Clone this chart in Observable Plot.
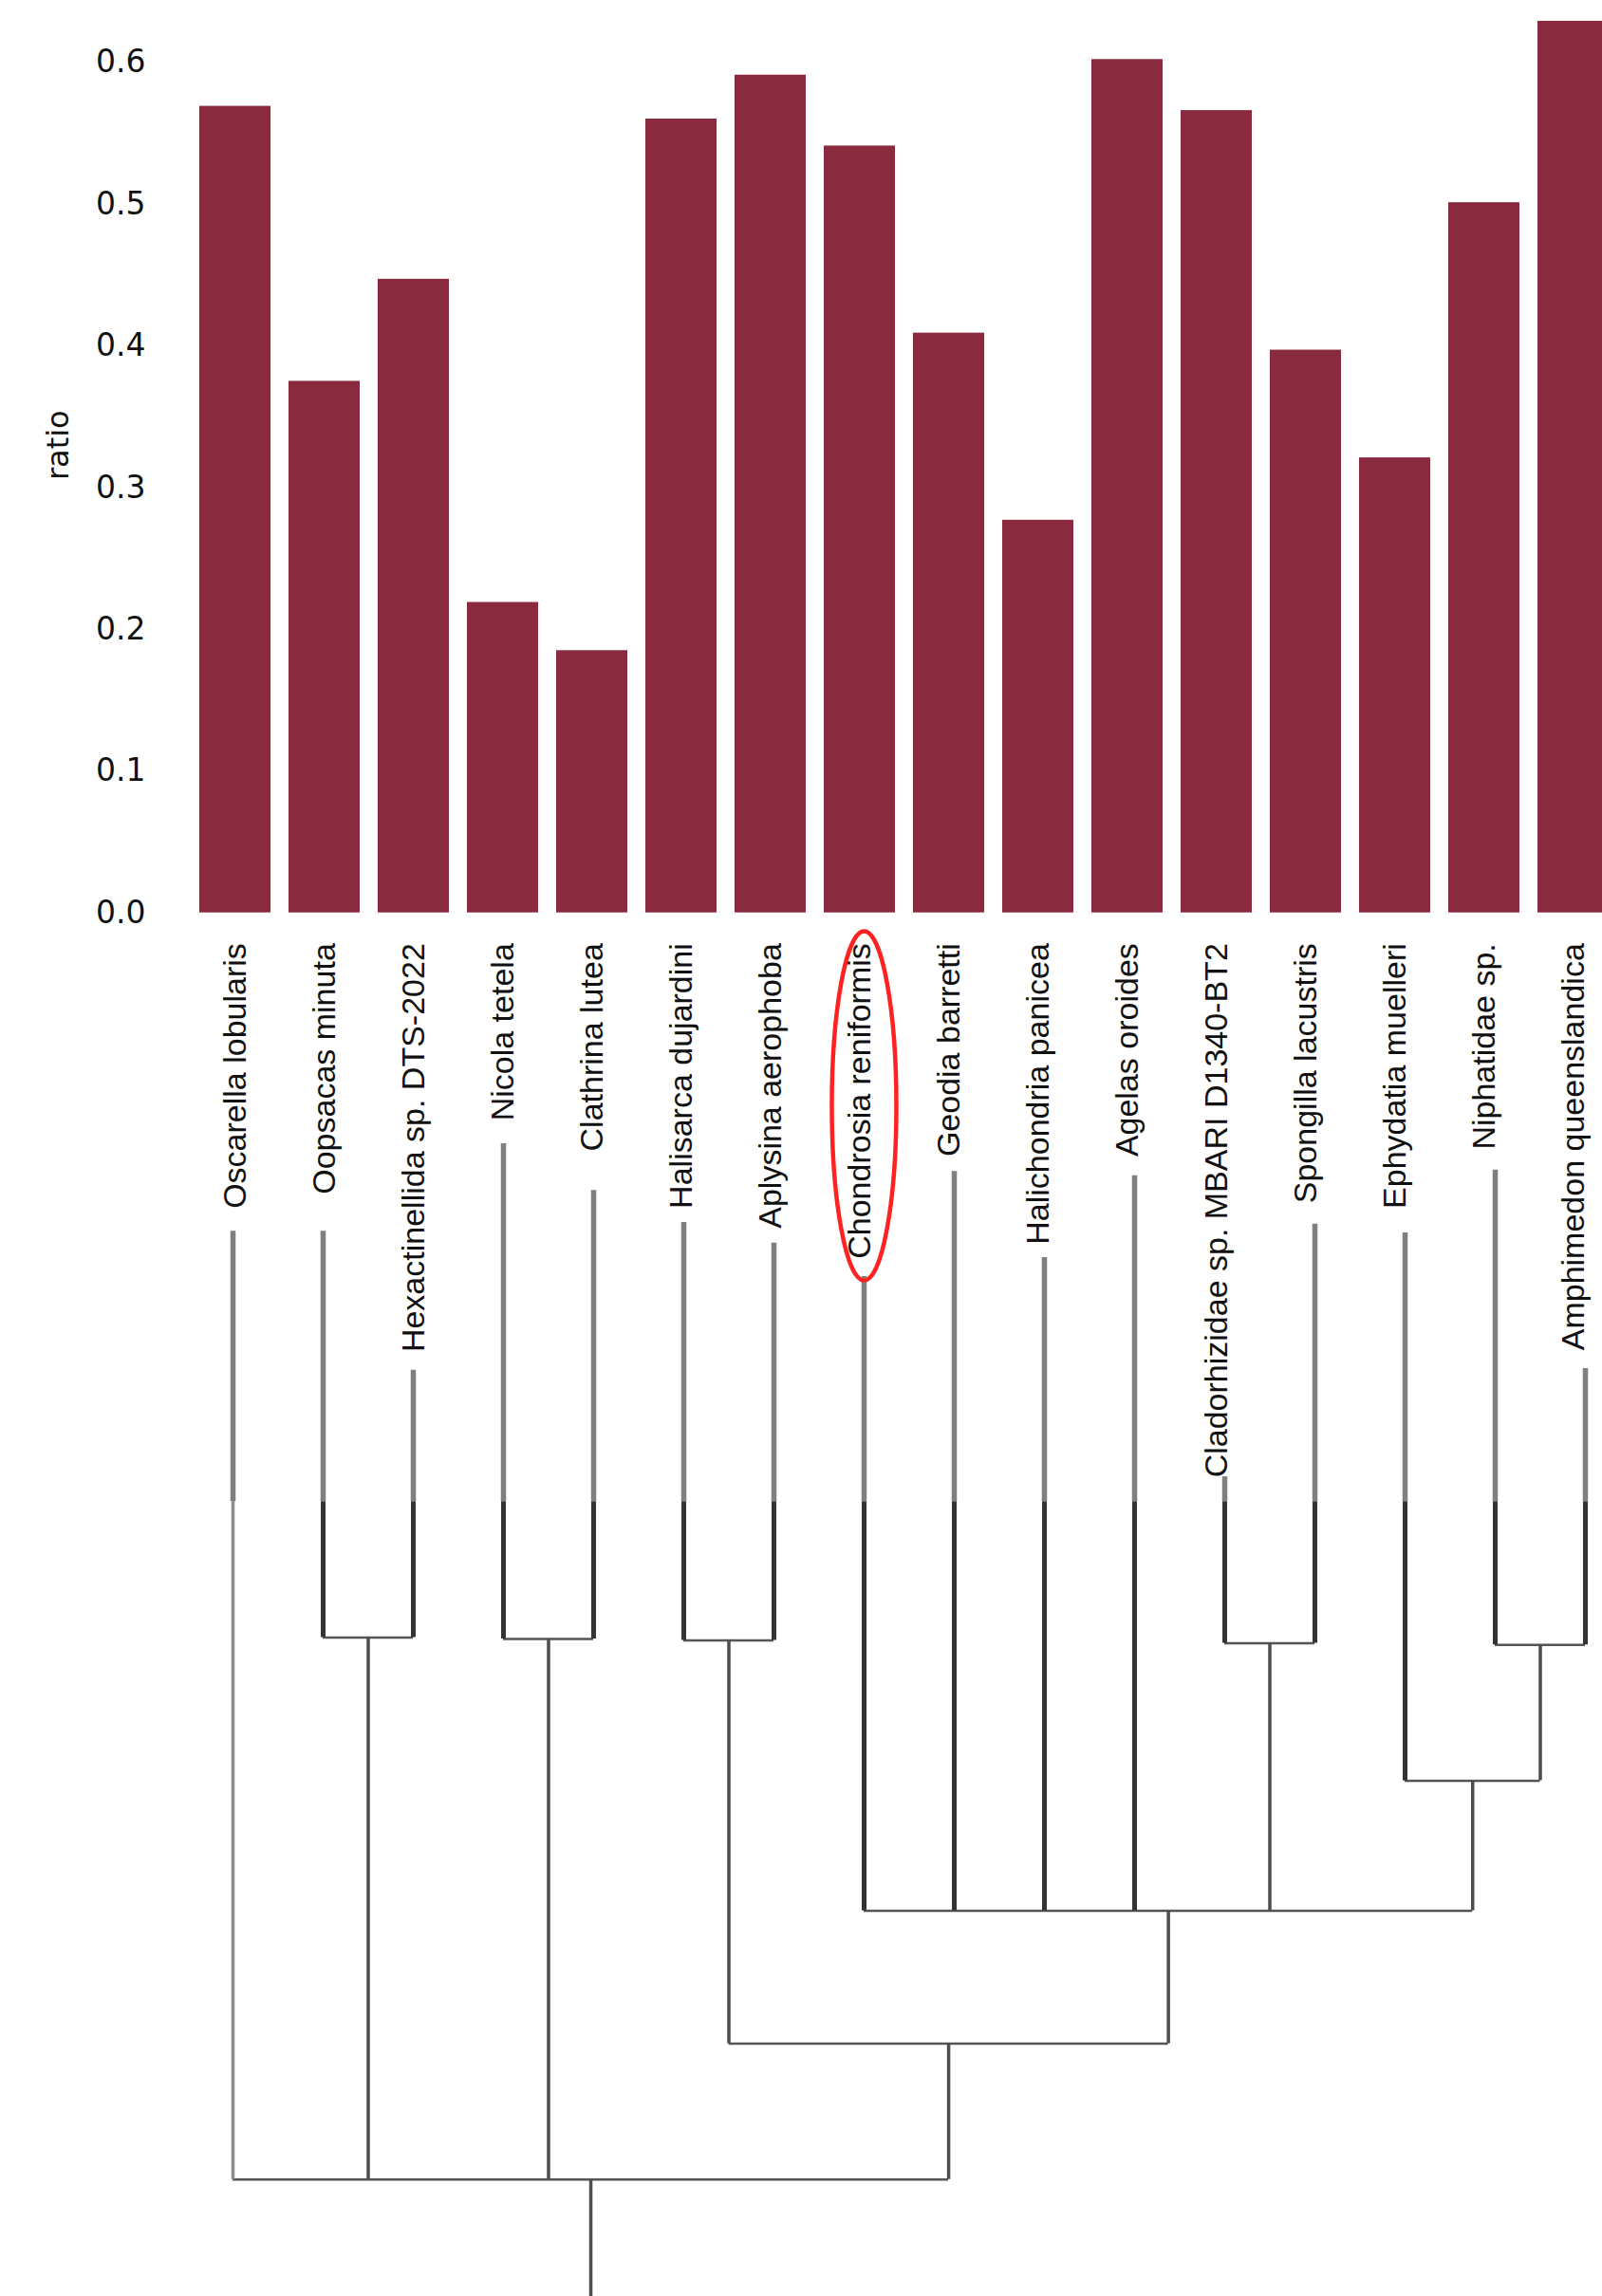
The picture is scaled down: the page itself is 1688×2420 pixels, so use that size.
<!DOCTYPE html>
<html>
<head>
<meta charset="utf-8">
<script src="https://cdn.jsdelivr.net/npm/d3@7"></script>
<script src="https://cdn.jsdelivr.net/npm/@observablehq/plot@0.6"></script>
<style>
  html, body { margin: 0; padding: 0; background: #fff; }
  #wrap { position: relative; width: 1688px; height: 2420px; overflow: hidden; }
  #wrap svg { position: absolute; left: 0; top: 0; }
</style>
</head>
<body>
<div id="wrap"></div>
<script>
// ---- data ----
const species = [
  "Oscarella lobularis", "Oopsacas minuta", "Hexactinellida sp. DTS-2022",
  "Nicola tetela", "Clathrina lutea", "Halisarca dujardini", "Aplysina aerophoba",
  "Chondrosia reniformis", "Geodia barretti", "Halichondria panicea",
  "Agelas oroides", "Cladorhizidae sp. MBARI D1340-BT2", "Spongilla lacustris",
  "Ephydatia muelleri", "Niphatidae sp.", "Amphimedon queenslandica"
];
const ratio = [0.569, 0.375, 0.447, 0.219, 0.185, 0.560, 0.591, 0.541,
               0.409, 0.277, 0.602, 0.566, 0.397, 0.321, 0.501, 0.629];
const yTicks = [0, 0.1, 0.2, 0.3, 0.4, 0.5, 0.6];
const highlighted = "Chondrosia reniformis";

// tree (depth measured upward from the bottom of the figure)
const tipDepth = [7.29, 7.29, 6.34, 7.89, 7.57, 7.35, 7.21, 6.98,
                  7.70, 7.11, 7.67, 5.61, 7.34, 7.28, 7.71, 6.35];
const shadeBreakDepth = 5.44;
const leafParent = ["root", "OH", "OH", "NC", "NC", "HA", "HA", "P",
                    "P", "P", "P", "CS", "CS", "E", "NA", "NA"];
const nodeIds    = ["OH", "NC", "HA", "CS", "NA", "E", "P", "B", "root"];
const nodeDepth  = [4.51, 4.50, 4.49, 4.47, 4.46, 3.53, 2.64, 1.73, 0.80];
const nodeParent = ["root", "root", "B", "P", "E", "P", "B", "root", null];

// ---- derived tree layout ----
const depthOf = id => id == null ? 0 : nodeDepth[nodeIds.indexOf(id)];
const nodeX = {};
const nodes = nodeIds.map((id, k) => {
  const xs = [];
  leafParent.forEach((p, i) => { if (p === id) xs.push(i); });
  nodeParent.forEach((p, j) => { if (p === id) xs.push(nodeX[nodeIds[j]]); });
  const xmin = d3.min(xs), xmax = d3.max(xs);
  nodeX[id] = (xmin + xmax) / 2;
  return {id, x: nodeX[id], xmin, xmax, depth: nodeDepth[k], parentDepth: depthOf(nodeParent[k])};
});
const leaves = species.map((s, i) => ({s, i, tip: tipDepth[i], parent: depthOf(leafParent[i])}));

const W = 1688, H = 2420;
const labelFont = "'Liberation Sans', Arial, sans-serif";
const axisFont = "'DejaVu Sans', Verdana, sans-serif";

// ---- bar chart ----
const bars = Plot.plot({
  width: W, height: H,
  marginLeft: 195.5, marginRight: 0, marginTop: 5.5, marginBottom: H - 961.7,
  style: {background: "transparent", color: "#111"},
  x: {type: "band", domain: species, paddingInner: 0.2, paddingOuter: 0.1,
      range: [195.5, 195.5 + 16 * 94.65], axis: null},
  y: {domain: [0, 0.64], axis: null},
  marks: [
    Plot.barY(species, {x: d => d, y: (d, i) => ratio[i], fill: "#8a2a3e"}),
    Plot.axisY({ticks: yTicks, tickFormat: d3.format(".1f"), tickSize: 0, tickPadding: 42.5,
                fontSize: 33, fontFamily: axisFont, label: null}),
    Plot.text(["ratio"], {frameAnchor: "left", rotate: -90, dx: -134, dy: 22,
                          fontSize: 32, fontFamily: axisFont, fill: "#111"}),
    Plot.text(species, {x: d => d, y: d => 0, text: d => d, rotate: -90, textAnchor: "end",
                        dy: 32, fontSize: 34, fontFamily: labelFont, fill: "#111"})
  ]
});

// ---- tree ----
const ellipseSymbol = {
  draw(ctx) {
    const rx = 34, ry = 184, k = 0.5523;
    ctx.moveTo(rx, 0);
    ctx.bezierCurveTo(rx, ry * k, rx * k, ry, 0, ry);
    ctx.bezierCurveTo(-rx * k, ry, -rx, ry * k, -rx, 0);
    ctx.bezierCurveTo(-rx, -ry * k, -rx * k, -ry, 0, -ry);
    ctx.bezierCurveTo(rx * k, -ry, rx, -ry * k, rx, 0);
    ctx.closePath();
  }
};
const hi = species.indexOf(highlighted);

const tree = Plot.plot({
  width: W, height: H,
  marginLeft: 245, marginRight: 18, marginTop: 0, marginBottom: 0,
  style: {background: "transparent"},
  x: {type: "linear", domain: [0, 15], axis: null},
  y: {type: "linear", domain: [0, H / 154], axis: null},
  marks: [
    Plot.ruleY(nodes, {y: "depth", x1: "xmin", x2: "xmax", stroke: "#555", strokeWidth: 2.5}),
    Plot.ruleX(nodes, {x: "x", y1: "parentDepth", y2: "depth", stroke: "#4d4d4d", strokeWidth: 3.5}),
    Plot.ruleX(leaves.filter(d => d.i > 0), {x: "i", y1: "parent", y2: () => shadeBreakDepth,
                                              stroke: "#333", strokeWidth: 5}),
    Plot.ruleX(leaves.filter(d => d.i === 0), {x: "i", y1: "parent", y2: () => shadeBreakDepth,
                                                stroke: "#8c8c8c", strokeWidth: 3.5}),
    Plot.ruleX(leaves, {x: "i", y1: () => shadeBreakDepth, y2: "tip", stroke: "#7f7f7f", strokeWidth: 5.5}),
    Plot.dot([hi], {x: d => d, y: d => tipDepth[d], dy: -180, symbol: ellipseSymbol, r: 10,
                    fill: "none", stroke: "#ff2222", strokeWidth: 4.5})
  ]
});

const wrap = document.getElementById("wrap");
wrap.appendChild(tree);
wrap.appendChild(bars);
</script>
</body>
</html>
